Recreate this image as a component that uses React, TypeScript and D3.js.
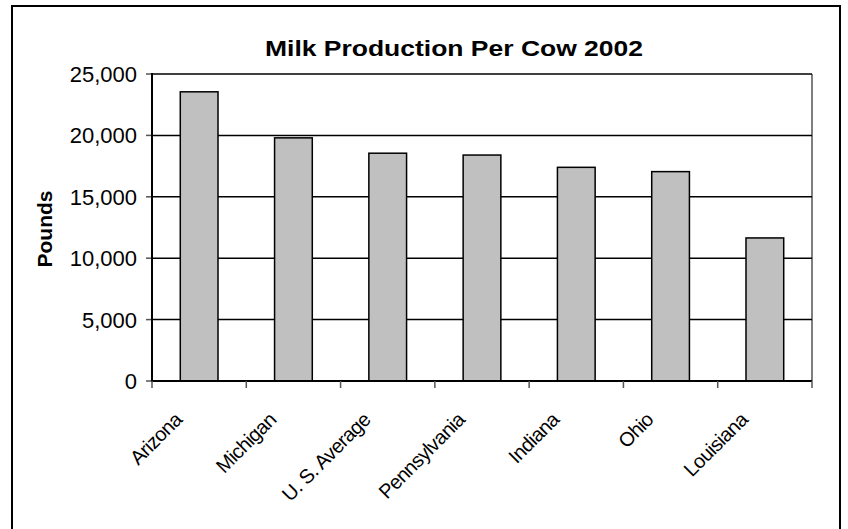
import { useMemo } from "react";
import * as d3 from "d3";

const states = ["Arizona", "Michigan", "U. S. Average", "Pennsylvania", "Indiana", "Ohio", "Louisiana"];
const pounds = [23550, 19800, 18550, 18400, 17400, 17050, 11650];
const yTicks = [0, 5000, 10000, 15000, 20000, 25000];

const W = 848;
const H = 529;
const plot = { left: 152, right: 812, top: 74, bottom: 381 };
const font = "'Liberation Sans', Arial, Helvetica, sans-serif";

export default function App() {
    const x = useMemo(
        () => d3.scaleBand<string>().domain(states).range([plot.left, plot.right]).paddingInner(0.6).paddingOuter(0.3),
        []
    );
    const band = useMemo(() => d3.scaleBand<string>().domain(states).range([plot.left, plot.right]), []);
    const y = useMemo(() => d3.scaleLinear().domain([0, 25000]).range([plot.bottom, plot.top]), []);
    const fmt = d3.format(",");

    const bounds = [...states.map((s) => band(s) as number), plot.right];

    return (
        <svg width={W} height={H} style={{ position: "absolute", left: 0, top: 0, background: "#fff" }} fontFamily={font}>
            <rect x={12} y={6} width={828} height={540} fill="#fff" stroke="#000" strokeWidth={2} />

            <text x={454} y={56} textAnchor="middle" fontSize={22} fontWeight="bold" textLength={378} lengthAdjust="spacingAndGlyphs">
                Milk Production Per Cow 2002
            </text>

            {/* plot area border (right side) */}
            <line x1={plot.right} x2={plot.right} y1={plot.top} y2={plot.bottom} stroke="#555" strokeWidth={1.5} />

            {yTicks.map((t) => (
                <g key={t}>
                    {t > 0 && <line x1={plot.left} x2={plot.right} y1={y(t)} y2={y(t)} stroke="#000" strokeWidth={1.5} />}
                    <line x1={plot.left - 6} x2={plot.left} y1={y(t)} y2={y(t)} stroke="#555" strokeWidth={1.5} />
                    <text x={137} y={y(t)} dy="0.36em" textAnchor="end" fontSize={22}>
                        {fmt(t)}
                    </text>
                </g>
            ))}

            {states.map((s, i) => (
                <rect
                    key={s}
                    x={x(s)}
                    y={y(pounds[i])}
                    width={x.bandwidth()}
                    height={y(0) - y(pounds[i])}
                    fill="#C0C0C0"
                    stroke="#000"
                    strokeWidth={1.5}
                />
            ))}

            <line x1={plot.left} x2={plot.left} y1={plot.top - 1} y2={plot.bottom + 1} stroke="#000" strokeWidth={2} />
            <line x1={plot.left} x2={plot.right} y1={plot.bottom} y2={plot.bottom} stroke="#000" strokeWidth={2} />

            {bounds.map((bx, i) => (
                <line key={i} x1={bx} x2={bx} y1={plot.bottom} y2={plot.bottom + 7} stroke="#555" strokeWidth={1.5} />
            ))}

            {states.map((s) => {
                const cx = (band(s) as number) + band.bandwidth() / 2 - 16;
                const cy = 421;
                return (
                    <text key={s} x={cx} y={cy} textAnchor="end" fontSize={20} letterSpacing={-0.6} transform={`rotate(-45 ${cx} ${cy})`}>
                        {s}
                    </text>
                );
            })}

            <text x={52} y={229} textAnchor="middle" fontSize={21} fontWeight="bold" transform="rotate(-90 52 229)">
                Pounds
            </text>
        </svg>
    );
}
